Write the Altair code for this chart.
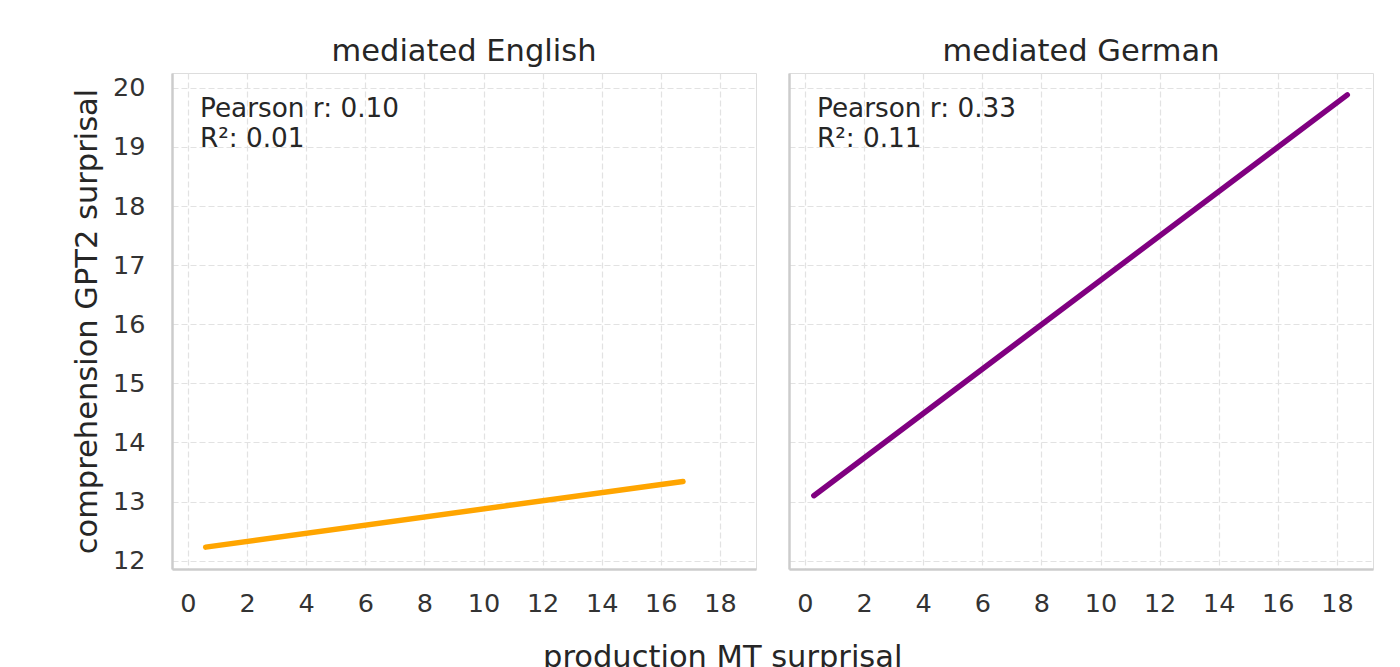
import altair as alt
import pandas as pd

# ---- data ----
panels = ["mediated English", "mediated German"]
line_colors = ["#FFA500", "#800080"]
x_start = [0.6, 0.3]
x_end = [16.75, 18.35]
y_start = [12.23, 13.10]
y_end = [13.34, 19.88]
pearson_r = ["0.10", "0.33"]
r_squared = ["0.01", "0.11"]

x_ticks = [0, 2, 4, 6, 8, 10, 12, 14, 16, 18]
y_ticks = [12, 13, 14, 15, 16, 17, 18, 19, 20]
x_domain = [-0.54, 19.22]
y_domain = [11.86, 20.25]

FONT = "DejaVu Sans"
TEXT = "#262626"
PANEL_W = 584
PANEL_H = 496

common_axis = dict(
    grid=True,
    gridDash=[6, 3],
    gridColor="#e2e2e2",
    gridWidth=1.2,
    domainColor="#cccccc",
    domainWidth=2.5,
    ticks=False,
    labelFont=FONT,
    labelFontSize=25.5,
    labelColor="#333333",
)


def panel(i):
    first = i == 0
    line_df = pd.DataFrame({"x": [x_start[i], x_end[i]], "y": [y_start[i], y_end[i]]})
    note_df = pd.DataFrame({"note": [f"Pearson r: {pearson_r[i]}\nR\u00b2: {r_squared[i]}"]})

    x_axis = alt.Axis(values=x_ticks, labelPadding=22, **common_axis)
    y_kw = dict(values=y_ticks, labelPadding=27, labels=first, **common_axis)
    if first:
        y_kw.update(
            title="comprehension GPT2 surprisal",
            titleFont=FONT,
            titleFontSize=30.5,
            titleFontWeight="normal",
            titleColor=TEXT,
            titlePadding=10,
        )
    y_axis = alt.Axis(**y_kw)

    x_enc = alt.X("x:Q", scale=alt.Scale(domain=x_domain, nice=False, zero=False), axis=x_axis, title="")
    if first:
        y_enc = alt.Y("y:Q", scale=alt.Scale(domain=y_domain, nice=False, zero=False), axis=y_axis)
    else:
        y_enc = alt.Y("y:Q", scale=alt.Scale(domain=y_domain, nice=False, zero=False), axis=y_axis, title="")

    line = alt.Chart(line_df).mark_line(
        color=line_colors[i], strokeWidth=5.5, strokeCap="round"
    ).encode(x=x_enc, y=y_enc)

    note = alt.Chart(note_df).mark_text(
        align="left",
        baseline="top",
        font=FONT,
        fontSize=26.3,
        color=TEXT,
        lineBreak="\n",
        lineHeight=30,
    ).encode(x=alt.value(28), y=alt.value(23), text="note:N")

    return alt.layer(line, note).properties(
        width=PANEL_W,
        height=PANEL_H,
        title=alt.TitleParams(
            panels[i],
            font=FONT,
            fontSize=30.5,
            fontWeight="normal",
            color=TEXT,
            anchor="middle",
            offset=6,
        ),
    )


chart = alt.hconcat(panel(0), panel(1), spacing=31).properties(
    title=alt.TitleParams(
        "production MT surprisal",
        orient="bottom",
        anchor="middle",
        font=FONT,
        fontSize=30.5,
        fontWeight="normal",
        color=TEXT,
        offset=26,
        dx=0,
    ),
    padding={"left": 64, "top": 28, "right": 5, "bottom": 5},
).configure_view(stroke=None).configure(background="white")

chart.save("out.html", embed_options={"renderer": "svg", "actions": False})
